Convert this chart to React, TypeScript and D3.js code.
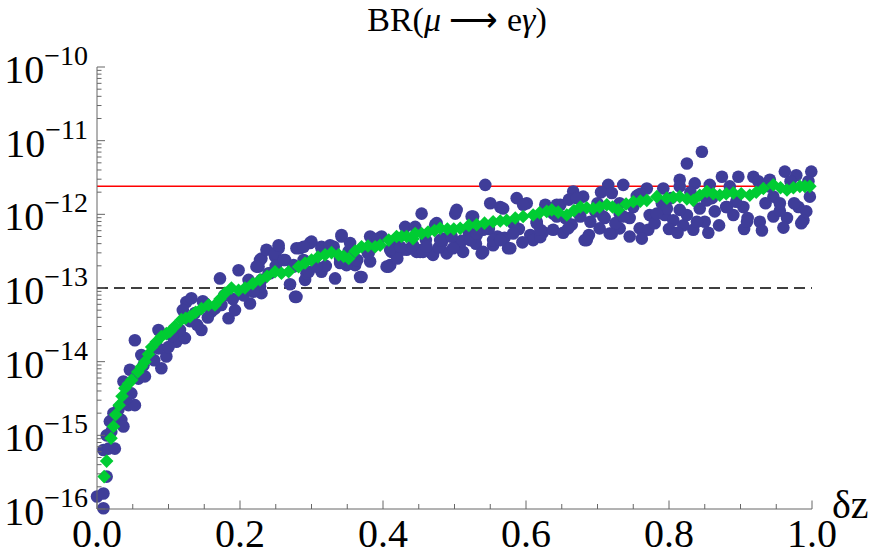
import React from "react";
import * as d3 from "d3";

// blue points: δz and log10(BR)
const blueX = [
  0.000, 0.009, 0.009, 0.0135, 0.009, 0.016, 0.025, 0.0135, 0.018, 0.023, 0.034, 0.037, 0.044, 0.053, 0.048, 0.037, 0.046, 0.058, 0.067, 0.062, 0.074, 0.090, 0.097, 0.086, 0.053, 0.086, 0.111, 0.123, 0.116, 0.125, 0.132, 0.137, 0.146, 0.151, 0.160, 0.172, 0.174, 0.184, 0.193, 0.198, 0.212, 0.214, 0.226, 0.230, 0.230,
  0.020, 0.030, 0.041, 0.065, 0.080, 0.100, 0.105, 0.130, 0.140, 0.155, 0.165, 0.178, 0.190, 0.205, 0.220, 0.120, 0.148,
  0.228, 0.230, 0.240, 0.254, 0.249, 0.263, 0.275, 0.277, 0.284, 0.291, 0.298, 0.314, 0.314, 0.331, 0.333, 0.342, 0.356, 0.361, 0.370, 0.382, 0.382, 0.398, 0.408, 0.412, 0.426, 0.431, 0.445, 0.454, 0.454, 0.468, 0.475, 0.482,
  0.410, 0.433, 0.452, 0.470, 0.484, 0.501, 0.503, 0.512, 0.524, 0.531, 0.538, 0.543, 0.550, 0.554, 0.564, 0.575, 0.582, 0.587, 0.601, 0.606, 0.624, 0.638, 0.638,
  0.405, 0.503, 0.610, 0.643, 0.489, 0.447, 0.300, 0.320, 0.293, 0.364, 0.352, 0.392, 0.415, 0.460, 0.495, 0.520, 0.548, 0.560, 0.590, 0.615, 0.270, 0.250, 0.340, 0.380, 0.420, 0.440, 0.478, 0.510, 0.530, 0.570, 0.595, 0.620,
  0.846, 0.825, 0.666, 0.715, 0.736, 0.769, 0.792, 0.815, 0.836, 0.857, 0.874, 0.897, 0.918, 0.962, 0.978, 0.999, 0.648, 0.643, 0.664, 0.685, 0.703, 0.720, 0.731, 0.731, 0.759, 0.771, 0.762, 0.773, 0.794, 0.806, 0.825, 0.834, 0.843, 0.864, 0.890, 0.904, 0.927, 0.946, 0.965, 0.981, 0.992, 0.997, 0.894, 0.946, 0.803, 0.815, 0.680, 0.697, 0.750,
  0.655, 0.675, 0.690, 0.710, 0.725, 0.745, 0.755, 0.780, 0.800, 0.820, 0.850, 0.870, 0.880, 0.910, 0.935, 0.955, 0.975, 0.988, 0.860, 0.885, 0.925, 0.940, 0.970, 0.995, 0.705, 0.760, 0.790, 0.830, 0.660, 0.700, 0.652, 0.688, 0.745, 0.812, 0.855, 0.905, 0.930, 0.960, 0.985,
  0.223, 0.237, 0.249, 0.254, 0.261, 0.279, 0.279, 0.289, 0.296, 0.307, 0.314, 0.326, 0.342, 0.349, 0.363, 0.368, 0.379, 0.393, 0.410, 0.424, 0.442, 0.456, 0.473, 0.480, 0.496, 0.498, 0.522, 0.526, 0.540, 0.540, 0.554, 0.568, 0.578, 0.582, 0.596, 0.615, 0.275, 0.289, 0.242, 0.228, 0.219, 0.340, 0.354, 0.461, 0.531, 0.564,
  0.671, 0.720, 0.941, 0.627, 0.620, 0.659, 0.682, 0.717, 0.839, 0.909, 0.701, 0.676, 0.815, 0.797, 0.853, 0.881, 0.955, 0.731, 0.757, 0.783, 0.736, 0.708,
];
const blueLog = [
  -15.83, -15.79, -15.99, -15.56, -15.20, -15.18, -15.18, -15.00, -14.81, -14.70, -14.79, -14.88, -14.59, -14.59, -14.43, -14.27, -14.11, -14.23, -14.20, -13.91, -13.93, -14.09, -13.93, -13.82, -13.71, -13.57, -13.73, -13.68, -13.57, -13.19, -13.14, -13.34, -13.57, -13.21, -13.32, -12.87, -13.23, -13.41, -13.30, -12.76, -12.89, -13.21, -12.71, -12.60, -13.07,
  -14.95, -14.65, -14.50, -14.05, -13.98, -13.80, -13.65, -13.45, -13.50, -13.40, -13.28, -13.10, -13.15, -13.10, -13.00, -13.30, -13.18,
  -12.62, -12.89, -12.80, -12.46, -12.57, -12.62, -12.69, -13.12, -12.46, -12.89, -12.39, -12.44, -12.78, -12.44, -12.87, -12.30, -12.57, -12.69, -12.85, -12.30, -12.64, -12.30, -12.71, -12.51, -12.48, -12.17, -12.17, -11.99, -12.48, -12.53, -12.12, -12.39,
  -12.69, -12.48, -12.51, -12.55, -12.33, -11.99, -12.42, -12.51, -12.03, -12.28, -12.53, -11.60, -11.85, -12.42, -11.90, -12.46, -12.12, -11.78, -11.85, -12.28, -12.24, -11.99, -12.21,
  -12.71, -11.94, -12.35, -11.87, -12.53, -12.51, -12.37, -12.70, -12.80, -12.62, -12.50, -12.38, -12.40, -12.35, -12.30, -12.25, -12.20, -12.30, -12.20, -12.10, -12.95, -12.70, -12.60, -12.52, -12.60, -12.45, -12.45, -12.36, -12.40, -12.32, -12.38, -12.31,
  -11.15, -11.31, -11.69, -11.60, -11.60, -11.65, -11.65, -11.53, -11.58, -11.60, -11.49, -11.49, -11.49, -11.42, -11.47, -11.42, -11.87, -12.03, -12.14, -12.35, -12.19, -12.26, -12.19, -11.99, -12.19, -12.21, -12.33, -12.01, -12.01, -12.08, -12.01, -12.21, -11.92, -11.96, -12.01, -11.90, -12.10, -12.03, -12.05, -11.90, -11.96, -11.76, -11.83, -11.76, -11.78, -11.62, -11.76, -11.96, -11.90,
  -12.05, -12.00, -12.10, -12.05, -12.12, -12.05, -11.75, -12.12, -12.20, -12.15, -12.10, -12.15, -11.90, -12.05, -11.85, -11.95, -11.85, -12.08, -11.78, -11.62, -11.55, -11.62, -11.55, -11.55, -11.70, -11.72, -11.85, -11.70, -11.80, -11.85, -12.25, -12.28, -12.30, -12.25, -12.25, -12.20, -12.22, -12.18, -12.12,
  -12.71, -12.48, -12.53, -12.42, -12.62, -12.46, -13.12, -12.44, -12.78, -12.71, -12.46, -12.42, -12.28, -12.69, -12.62, -12.85, -12.53, -12.33, -12.48, -12.44, -12.42, -12.51, -12.14, -12.35, -12.30, -12.46, -12.35, -12.03, -12.21, -12.51, -12.35, -11.92, -12.46, -12.26, -11.87, -12.12, -12.71, -12.62, -12.80, -12.98, -13.05, -12.66, -12.39, -12.44, -12.26, -12.35,
  -11.78, -11.71, -11.53, -11.87, -12.21, -12.19, -12.35, -12.26, -12.10, -12.10, -11.94, -12.03, -11.94, -11.92, -11.81, -11.90, -11.85, -11.85, -11.81, -11.99, -12.03, -12.03,
];

// green points: δz and log10(BR)
const greenX = [
  0.010, 0.0135, 0.0196, 0.023, 0.026, 0.031, 0.035, 0.039, 0.044, 0.0485, 0.057, 0.062, 0.067, 0.072, 0.0765, 0.083, 0.090, 0.097, 0.102, 0.109, 0.118, 0.124, 0.130, 0.138, 0.146, 0.156, 0.165, 0.172, 0.179, 0.188, 0.198, 0.207, 0.218, 0.228, 0.238, 0.249, 0.258, 0.268, 0.282, 0.291, 0.300, 0.309, 0.319, 0.328, 0.338, 0.345, 0.352, 0.361, 0.370, 0.379, 0.389, 0.396, 0.408, 0.419, 0.426, 0.433, 0.442, 0.445, 0.454, 0.463, 0.472, 0.480, 0.490, 0.499, 0.508, 0.520, 0.531, 0.542, 0.554, 0.564, 0.573, 0.585, 0.596, 0.610, 0.619, 0.629, 0.636, 0.645, 0.657, 0.667, 0.676, 0.685, 0.694, 0.703, 0.713, 0.721, 0.729, 0.740, 0.750, 0.760, 0.769, 0.783, 0.797, 0.806, 0.815, 0.825, 0.834, 0.843, 0.853, 0.862, 0.871, 0.880, 0.890, 0.901, 0.913, 0.922, 0.932, 0.946, 0.956, 0.965, 0.974, 0.983, 0.990, 0.997,
];
const greenLog = [
  -15.56, -15.35, -15.04, -14.88, -14.72, -14.59, -14.47, -14.36, -14.30, -14.25, -14.14, -14.07, -14.00, -13.90, -13.80, -13.73, -13.66, -13.62, -13.59, -13.52, -13.43, -13.41, -13.39, -13.33, -13.28, -13.23, -13.23, -13.15, -13.07, -13.00, -13.03, -13.00, -12.94, -12.89, -12.84, -12.78, -12.80, -12.78, -12.71, -12.66, -12.62, -12.58, -12.55, -12.52, -12.55, -12.57, -12.60, -12.50, -12.44, -12.43, -12.44, -12.42, -12.35, -12.30, -12.30, -12.30, -12.33, -12.26, -12.26, -12.24, -12.22, -12.19, -12.20, -12.20, -12.19, -12.15, -12.14, -12.12, -12.10, -12.09, -12.08, -12.05, -12.03, -12.01, -11.98, -11.96, -11.94, -11.97, -12.01, -11.95, -11.90, -11.91, -11.92, -11.90, -11.87, -11.90, -11.94, -11.86, -11.83, -11.82, -11.81, -11.76, -11.78, -11.77, -11.76, -11.79, -11.81, -11.74, -11.69, -11.72, -11.74, -11.72, -11.71, -11.72, -11.74, -11.70, -11.65, -11.60, -11.64, -11.67, -11.64, -11.62, -11.62, -11.62,
];

const yTickExps = [-10, -11, -12, -13, -14, -15, -16];
const xTickVals = [0, 0.2, 0.4, 0.6, 0.8, 1.0];
const redLine = 2.4e-12;
const dashedLine = 1e-13;

const W = 872;
const H = 557;
const FONT = "'Liberation Serif', 'Times New Roman', serif";

export default function App() {
  const x = d3.scaleLinear().domain([0, 1]).range([97, 812]);
  const y = d3.scaleLog().domain([1e-16, 1e-10]).range([509, 67]);
  const axisColor = "#666";

  const blue = blueX.map((v, i) => ({ x: v, y: Math.pow(10, blueLog[i]) }));
  const green = greenX.map((v, i) => ({ x: v, y: Math.pow(10, greenLog[i]) }));

  const minorY: number[] = [];
  for (let e = -16; e < -10; e++) {
    for (let m = 2; m <= 9; m++) minorY.push(m * Math.pow(10, e));
  }
  const minorX = d3.range(0, 1.0001, 0.05).filter((v) => Math.abs(Math.round(v * 5) - v * 5) > 1e-6);

  const diamond = d3.symbol().type(d3.symbolDiamond2).size(118)();

  return (
    <svg width={W} height={H} style={{ position: "absolute", left: 0, top: 0, background: "#fff" }} fontFamily={FONT}>
      <rect x={0} y={0} width={W} height={H} fill="#fff" />
      {/* title */}
      <text x={457} y={31} textAnchor="middle" fontSize={34} fill="#000" xmlSpace="preserve">
        BR(<tspan fontStyle="italic">μ</tspan>{" \u27F6 e"}<tspan fontStyle="italic">γ</tspan>)
      </text>

      {/* reference lines */}
      <line x1={x(0)} x2={x(1)} y1={y(redLine)} y2={y(redLine)} stroke="#ff0000" strokeWidth={1.5} />
      <line x1={x(0)} x2={x(1)} y1={y(dashedLine)} y2={y(dashedLine)} stroke="#000" strokeWidth={1.5} strokeDasharray="11,6" />

      {/* scatter */}
      <g fill="#3f3d99">
        {blue.map((d, i) => (
          <circle key={i} cx={x(d.x)} cy={y(d.y)} r={6.3} />
        ))}
      </g>
      <g fill="#00cc33">
        {green.map((d, i) => (
          <path key={i} d={diamond as string} transform={`translate(${x(d.x)},${y(d.y)})`} />
        ))}
      </g>

      {/* axes */}
      <line x1={97} x2={97} y1={y(1e-10)} y2={y(1e-16)} stroke={axisColor} strokeWidth={1} />
      <line x1={x(0)} x2={x(1)} y1={509} y2={509} stroke={axisColor} strokeWidth={1} />
      {yTickExps.map((e) => (
        <line key={"ym" + e} x1={97} x2={105} y1={y(Math.pow(10, e))} y2={y(Math.pow(10, e))} stroke={axisColor} />
      ))}
      {minorY.map((v, i) => (
        <line key={"yn" + i} x1={97} x2={101.5} y1={y(v)} y2={y(v)} stroke={axisColor} />
      ))}
      {xTickVals.map((v) => (
        <line key={"xm" + v} x1={x(v)} x2={x(v)} y1={509} y2={500.5} stroke={axisColor} />
      ))}
      {minorX.map((v, i) => (
        <line key={"xn" + i} x1={x(v)} x2={x(v)} y1={509} y2={504} stroke={axisColor} />
      ))}

      {/* y tick labels */}
      {yTickExps.map((e) => (
        <text key={"yl" + e} x={88} y={y(Math.pow(10, e)) + 16} textAnchor="end" fontSize={40} fill="#000">
          10<tspan dy={-18} fontSize={28}>{"\u2212" + Math.abs(e)}</tspan>
        </text>
      ))}
      {/* x tick labels */}
      {xTickVals.map((v) => (
        <text key={"xl" + v} x={x(v)} y={547} textAnchor="middle" fontSize={40} fill="#000">
          {v.toFixed(1)}
        </text>
      ))}
      <text x={832} y={518} fontSize={40} fill="#000">
        δz
      </text>
    </svg>
  );
}
